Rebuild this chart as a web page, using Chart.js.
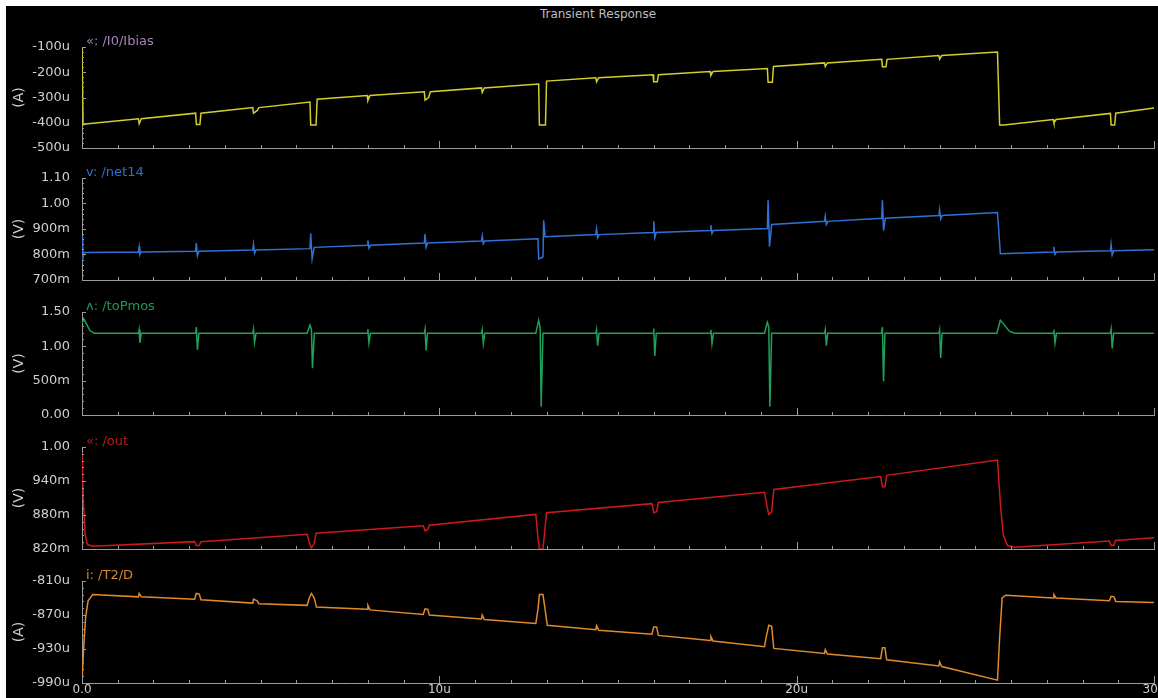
<!DOCTYPE html>
<html>
<head>
<meta charset="utf-8">
<script src="https://cdn.jsdelivr.net/npm/chart.js@4.4.0/dist/chart.umd.min.js"></script>
<style>
body { margin:0; background:#fff; width:1158px; height:698px; overflow:hidden; position:relative; font-family:"DejaVu Sans", sans-serif; }
#frame { position:absolute; left:6px; top:6px; width:1152px; height:692px; background:#000; }
canvas { position:absolute; left:0; }
#title { position:absolute; left:498px; width:200px; top:8px; text-align:center; color:#bdbdbd; font-size:12px; line-height:12px; }
</style>
</head>
<body>
<div id="frame"></div>
<div id="title">Transient Response</div>
<canvas id="p1" width="1158" height="129" style="top:27px"></canvas>
<canvas id="p2" width="1158" height="130" style="top:158px"></canvas>
<canvas id="p3" width="1158" height="131" style="top:292px"></canvas>
<canvas id="p4" width="1158" height="130" style="top:427px"></canvas>
<canvas id="p5" width="1158" height="137" style="top:561px"></canvas>
<script>
// time in us, currents in uA, voltages in V
var timeLabelValues = [0, 10, 20, 30];
var timeLabelText = ['0.0', '10u', '20u', '30u'];

var ibiasTicks = [-100, -200, -300, -400, -500];
var ibiasTickLabels = ['-100u', '-200u', '-300u', '-400u', '-500u'];
var net14Ticks = [1.10, 1.00, 0.90, 0.80, 0.70];
var net14TickLabels = ['1.10', '1.00', '900m', '800m', '700m'];
var topmosTicks = [1.5, 1.0, 0.5, 0];
var topmosTickLabels = ['1.50', '1.00', '500m', '0.00'];
var outTicks = [1.00, 0.94, 0.88, 0.82];
var outTickLabels = ['1.00', '940m', '880m', '820m'];
var t2dTicks = [-810, -870, -930, -990];
var t2dTickLabels = ['-810u', '-870u', '-930u', '-990u'];

var ibias = [
  [0,-105],[0.03,-408],[0.1,-405],
  [1.58,-384],[1.6,-404],[1.66,-384],
  [3.18,-362],[3.2,-407],[3.3,-407],[3.33,-362],
  [4.78,-340],[4.8,-362],[4.9,-352],[4.95,-340],
  [6.38,-318],[6.4,-409],[6.55,-409],[6.58,-307],
  [7.98,-292],[8.0,-312],[8.06,-292],
  [9.58,-277],[9.6,-310],[9.7,-300],[9.75,-277],
  [11.18,-262],[11.2,-280],[11.26,-262],
  [12.78,-247],[12.8,-409],[12.97,-409],[13.0,-235],
  [14.38,-222],[14.4,-238],[14.46,-222],
  [15.98,-210],[16.0,-238],[16.1,-238],[16.13,-210],
  [17.58,-197],[17.6,-212],[17.66,-197],
  [19.18,-185],[19.2,-240],[19.32,-240],[19.35,-177],
  [20.78,-163],[20.8,-177],[20.86,-163],
  [22.38,-149],[22.4,-178],[22.5,-178],[22.53,-149],
  [23.98,-134],[24.0,-148],[24.06,-134],
  [25.62,-120],[25.68,-409],[25.8,-409],
  [27.18,-387],[27.2,-400],[27.26,-387],
  [28.78,-363],[28.8,-409],[28.9,-409],[28.93,-362],
  [30,-342]
];

var net14 = [
  [0,0.87],[0.02,0.785],[0.06,0.808],
  [1.58,0.810],[1.6,0.83],[1.62,0.80],[1.65,0.810],
  [3.18,0.813],[3.2,0.845],[3.23,0.795],[3.27,0.813],
  [4.78,0.818],[4.8,0.84],[4.83,0.805],[4.87,0.818],
  [6.38,0.823],[6.4,0.882],[6.44,0.783],[6.5,0.828],
  [7.98,0.836],[8.0,0.855],[8.03,0.825],[8.07,0.836],
  [9.58,0.845],[9.6,0.880],[9.63,0.828],[9.67,0.845],
  [11.18,0.853],[11.2,0.873],[11.23,0.842],[11.27,0.853],
  [12.76,0.862],[12.78,0.783],[12.9,0.79],[12.92,0.934],[12.96,0.870],
  [14.38,0.878],[14.4,0.90],[14.43,0.866],[14.47,0.878],
  [15.98,0.886],[16.0,0.93],[16.03,0.866],[16.07,0.886],
  [17.58,0.894],[17.6,0.915],[17.63,0.882],[17.67,0.894],
  [19.18,0.902],[19.2,1.013],[19.24,0.831],[19.3,0.918],
  [20.78,0.930],[20.8,0.95],[20.83,0.918],[20.87,0.930],
  [22.38,0.942],[22.4,1.013],[22.43,0.894],[22.48,0.942],
  [23.98,0.953],[24.0,0.975],[24.03,0.94],[24.07,0.953],
  [25.62,0.965],[25.7,0.803],
  [27.18,0.810],[27.2,0.83],[27.23,0.80],[27.27,0.810],
  [28.78,0.815],[28.8,0.84],[28.83,0.798],[28.87,0.815],
  [30,0.819]
];

var topmos = [
  [0,1.33],[0.05,1.40],[0.12,1.33],[0.22,1.23],[0.35,1.19],
  [1.58,1.19],[1.6,1.24],[1.62,1.05],[1.66,1.19],
  [3.18,1.19],[3.2,1.28],[3.23,0.95],[3.27,1.19],
  [4.78,1.19],[4.8,1.25],[4.83,1.06],[4.87,1.19],
  [6.3,1.19],[6.38,1.31],[6.42,1.25],[6.45,0.68],[6.5,1.19],
  [7.98,1.19],[8.0,1.25],[8.03,1.05],[8.07,1.19],
  [9.58,1.19],[9.6,1.25],[9.63,0.94],[9.67,1.19],
  [11.18,1.19],[11.2,1.24],[11.23,1.04],[11.27,1.19],
  [12.7,1.19],[12.78,1.38],[12.82,1.28],[12.85,0.12],[12.9,1.19],
  [14.38,1.19],[14.4,1.24],[14.43,1.01],[14.47,1.19],
  [15.98,1.19],[16.0,1.26],[16.03,0.86],[16.07,1.19],
  [17.58,1.19],[17.6,1.24],[17.63,1.04],[17.67,1.19],
  [19.1,1.19],[19.18,1.35],[19.22,1.28],[19.25,0.12],[19.3,1.19],
  [20.78,1.19],[20.8,1.24],[20.83,1.01],[20.87,1.19],
  [22.38,1.19],[22.4,1.28],[22.43,0.49],[22.47,1.19],
  [23.98,1.19],[24.0,1.24],[24.03,0.83],[24.07,1.19],
  [25.6,1.19],[25.7,1.38],[25.8,1.32],[25.95,1.22],[26.1,1.19],
  [27.18,1.19],[27.2,1.24],[27.23,1.05],[27.27,1.19],
  [28.78,1.19],[28.8,1.25],[28.83,0.97],[28.87,1.19],
  [30,1.19]
];

var out = [
  [0,0.99],[0.04,0.90],[0.09,0.845],[0.15,0.828],[0.3,0.825],
  [3.15,0.833],[3.2,0.826],[3.28,0.826],[3.33,0.833],
  [6.3,0.846],[6.37,0.83],[6.42,0.822],[6.5,0.83],[6.55,0.848],
  [9.55,0.861],[9.6,0.852],[9.68,0.855],[9.72,0.862],
  [12.7,0.881],[12.76,0.84],[12.8,0.82],[12.9,0.82],[12.94,0.845],[13.0,0.884],
  [15.95,0.900],[16.0,0.884],[16.08,0.886],[16.13,0.902],
  [19.1,0.920],[19.17,0.895],[19.22,0.881],[19.3,0.885],[19.36,0.925],
  [22.35,0.948],[22.4,0.930],[22.47,0.93],[22.52,0.95],
  [25.62,0.977],[25.7,0.90],[25.78,0.845],[25.9,0.826],[26.1,0.823],
  [28.75,0.834],[28.8,0.826],[28.88,0.827],[28.92,0.835],
  [30,0.840]
];

var t2d = [
  [0,-990],[0.04,-935],[0.1,-875],[0.17,-845],[0.3,-834],
  [1.58,-838],[1.6,-832],[1.66,-838],
  [3.15,-842],[3.2,-832],[3.28,-833],[3.33,-843],
  [4.78,-849],[4.8,-842],[4.9,-845],[4.95,-850],
  [6.3,-853],[6.36,-840],[6.42,-832],[6.5,-840],[6.56,-856],
  [7.98,-860],[8.0,-853],[8.06,-861],
  [9.55,-869],[9.6,-859],[9.68,-860],[9.72,-870],
  [11.18,-877],[11.2,-870],[11.26,-878],
  [12.7,-885],[12.76,-860],[12.8,-834],[12.9,-834],[12.96,-860],[13.02,-888],
  [14.38,-896],[14.4,-889],[14.46,-897],
  [15.95,-904],[16.0,-891],[16.08,-891],[16.13,-906],
  [17.58,-915],[17.6,-908],[17.66,-916],
  [19.1,-926],[19.16,-905],[19.22,-888],[19.3,-890],[19.36,-929],
  [20.78,-938],[20.8,-931],[20.86,-939],
  [22.35,-947],[22.4,-928],[22.47,-928],[22.52,-949],
  [23.98,-960],[24.0,-953],[24.06,-961],
  [25.62,-985],[25.68,-910],[25.75,-840],[25.85,-835],
  [27.18,-840],[27.2,-834],[27.26,-840],
  [28.75,-845],[28.8,-837],[28.88,-838],[28.93,-846],
  [30,-848]
];

var axisColor = '#9c9c9c';
var textColor = '#cfcfcf';
var tickFont = { family: 'DejaVu Sans', size: 13 };

// series name, minor ticks on axes
var decor = {
  id: 'decor',
  afterDraw: function(chart, args, opts) {
    var ctx = chart.ctx, a = chart.chartArea;
    var xs = chart.scales.x, ys = chart.scales.y;
    ctx.save();
    ctx.strokeStyle = axisColor;
    ctx.lineWidth = 1;
    ctx.beginPath();
    xs.ticks.forEach(function(t) {
      var px = Math.round(xs.getPixelForValue(t.value)) + 0.5;
      var len = t.value % 10 === 0 ? 7 : 3;
      ctx.moveTo(px, a.bottom);
      ctx.lineTo(px, a.bottom - len);
    });
    var step = (opts.ticks[0] - opts.ticks[1]) / 5;
    var n = Math.round((ys.max - ys.min) / step);
    for (var i = 0; i <= n; i++) {
      var py = Math.round(ys.getPixelForValue(ys.min + i * step)) + 0.5;
      var l = i % 5 === 0 ? 4 : 2;
      ctx.moveTo(a.left, py);
      ctx.lineTo(a.left + l, py);
    }
    ctx.stroke();
    ctx.font = '13px "DejaVu Sans"';
    ctx.fillStyle = opts.color;
    ctx.textBaseline = 'middle';
    ctx.fillText(opts.text, a.left + 4, a.top - 5);
    ctx.restore();
  }
};

function panel(id, points, color, name, nameColor, unit, yTicks, yLabels, last) {
  return new Chart(document.getElementById(id), {
    type: 'line',
    data: {
      datasets: [{
        data: points.map(function(p) { return { x: p[0], y: p[1] }; }),
        borderColor: color,
        borderWidth: 1.5,
        pointRadius: 0,
        tension: 0
      }]
    },
    options: {
      responsive: false,
      animation: false,
      devicePixelRatio: 1,
      layout: { padding: { top: 20, left: 6, right: 4, bottom: 0 } },
      plugins: {
        legend: { display: false },
        tooltip: { enabled: false },
        decor: { text: name, color: nameColor, ticks: yTicks }
      },
      scales: {
        x: {
          type: 'linear', min: 0, max: 30,
          afterBuildTicks: function(s) {
            s.ticks = [];
            for (var t = 0; t <= 30; t++) s.ticks.push({ value: t });
          },
          ticks: {
            display: last, autoSkip: false, maxRotation: 0, padding: 0,
            color: textColor, font: { family: 'DejaVu Sans', size: 12 },
            callback: function(v) {
              var i = timeLabelValues.indexOf(v);
              return i < 0 ? '' : timeLabelText[i];
            }
          },
          grid: { display: true, drawOnChartArea: false, drawTicks: false },
          border: { color: axisColor },
          afterFit: function(s) { s.height = last ? 15 : 8; s.paddingLeft = 0; s.paddingRight = 0; }
        },
        y: {
          type: 'linear', min: yTicks[yTicks.length - 1], max: yTicks[0],
          afterBuildTicks: function(s) {
            s.ticks = yTicks.map(function(v) { return { value: v }; });
          },
          ticks: {
            padding: 12, color: textColor, font: tickFont,
            callback: function(v, i) { return yLabels[i]; }
          },
          grid: { display: true, drawOnChartArea: false, drawTicks: false },
          border: { color: axisColor },
          title: { display: true, text: unit, color: textColor, font: { family: 'DejaVu Sans', size: 14 }, padding: { top: 5, bottom: 0 } },
          afterFit: function(s) { s.width = 76; s.paddingTop = 0; s.paddingBottom = 0; }
        }
      }
    },
    plugins: [decor]
  });
}

panel('p1', ibias, '#d2cf2a', '\u00ab: /I0/Ibias', '#a583b8', '(A)', ibiasTicks, ibiasTickLabels, false);
panel('p2', net14, '#2f72d6', 'v: /net14', '#2f6fcf', '(V)', net14Ticks, net14TickLabels, false);
panel('p3', topmos, '#1fa15a', '\u028c: /toPmos', '#21985a', '(V)', topmosTicks, topmosTickLabels, false);
panel('p4', out, '#cc1a1a', '\u00ab: /out', '#b81c1c', '(V)', outTicks, outTickLabels, false);
panel('p5', t2d, '#e08a2a', 'i: /T2/D', '#d9862a', '(A)', t2dTicks, t2dTickLabels, true);
</script>
</body>
</html>
